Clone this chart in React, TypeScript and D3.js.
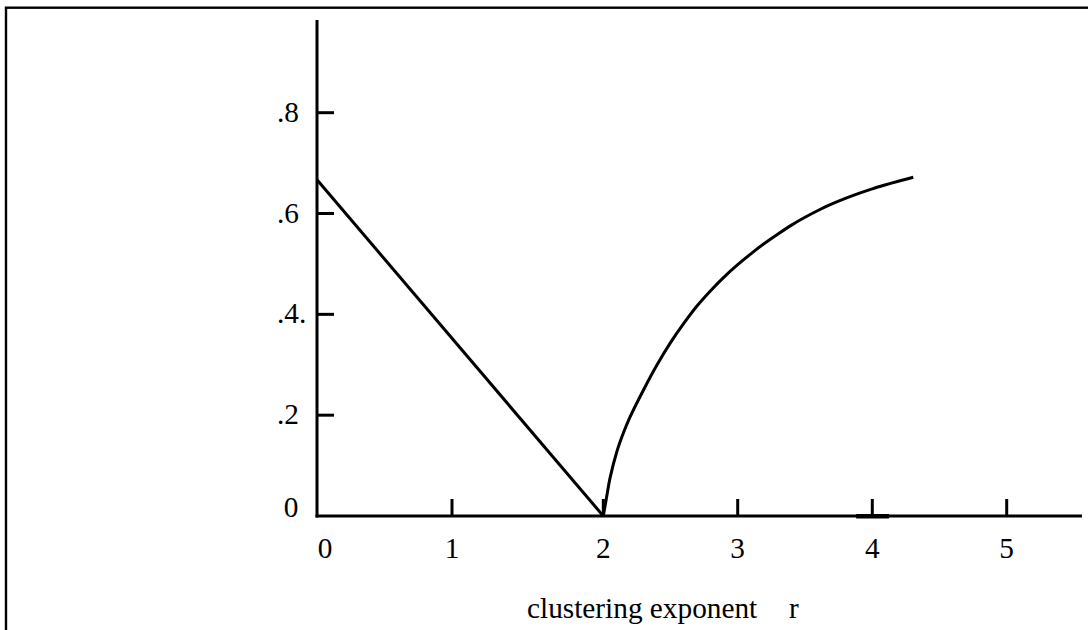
import React from "react";
import * as d3 from "d3";

// x-axis tick positions (the original figure's spacing is slightly uneven)
const xTickValues = [0, 1, 2, 3, 4, 5];
const xTickPixels = [317, 452, 603.3, 737.7, 872.3, 1006.7];
const xTickLabels = ["0", "1", "2", "3", "4", "5"];

const yTickValues = [0, 0.2, 0.4, 0.6, 0.8];
const yTickLabels = ["0", ".2", ".4.", ".6", ".8"];

// left branch: straight line
const lineR = [0, 2];
const lineV = [0.667, 0];

// right branch: rising curve
const curveR = [
  2.0, 2.025, 2.05, 2.1, 2.15, 2.2, 2.3, 2.4, 2.5, 2.6, 2.7, 2.8, 2.9, 3.0, 3.1, 3.2, 3.3,
  3.4, 3.5, 3.6, 3.7, 3.8, 3.9, 4.0, 4.1, 4.2, 4.305,
];
const curveV = [
  0, 0.038, 0.075, 0.127, 0.165, 0.197, 0.2505, 0.3, 0.344, 0.3825, 0.4175, 0.4475, 0.4745,
  0.4985, 0.5205, 0.541, 0.5595, 0.577, 0.5925, 0.6065, 0.619, 0.63, 0.64, 0.649, 0.657,
  0.6645, 0.672,
];

const xTitle = "clustering exponent";
const xSymbol = "r";

export default function App() {
  const W = 1088;
  const H = 630;
  const font = "Liberation Serif, DejaVu Serif, serif";
  const fs = 29.3;

  const x = d3.scaleLinear().domain(xTickValues).range(xTickPixels);
  const y = d3.scaleLinear().domain([0, 0.8]).range([516, 112.7]);

  const x0 = x(0);
  const y0 = y(0);
  const xEnd = x(5.56);
  const yTop = y(0.984);

  const line = d3
    .line<[number, number]>()
    .x((d) => x(d[0]))
    .y((d) => y(d[1]));

  const curve = d3
    .line<[number, number]>()
    .x((d) => x(d[0]))
    .y((d) => y(d[1]))
    .curve(d3.curveCatmullRom.alpha(0.5));

  const lineData: [number, number][] = lineR.map((r, i) => [r, lineV[i]]);
  const curveData: [number, number][] = curveR.map((r, i) => [r, curveV[i]]);

  const textStyle = { fontFamily: font, fontSize: fs } as React.CSSProperties;

  return (
    <svg
      width={W}
      height={H}
      viewBox={`0 0 ${W} ${H}`}
      style={{ position: "absolute", left: 0, top: 0, display: "block", background: "#fff" }}
    >
      {/* frame */}
      <rect x={6} y={7.7} width={1300} height={900} fill="none" stroke="#000" strokeWidth={2.4} />

      {/* axes */}
      <line x1={x0} y1={yTop} x2={x0} y2={y0 + 1.5} stroke="#000" strokeWidth={3} />
      <line x1={x0 - 1.5} y1={y0} x2={xEnd} y2={y0} stroke="#000" strokeWidth={3} />
      {/* small thicker stroke near r=4 on the axis */}
      <line x1={x(3.88)} y1={y0 + 0.3} x2={x(4.125)} y2={y0 + 0.3} stroke="#000" strokeWidth={4.5} />

      {/* y ticks */}
      {yTickValues.map((v, i) =>
        v === 0 ? null : (
          <line key={"yt" + i} x1={x0} y1={y(v)} x2={x0 + 17} y2={y(v)} stroke="#000" strokeWidth={3} />
        )
      )}
      {yTickValues.map((v, i) => {
        const lab = yTickLabels[i];
        const startsDot = lab.startsWith(".");
        return (
          <text
            key={"yl" + i}
            x={startsDot ? x0 - 40 : x0 - 18.5}
            y={v === 0 ? y(v) + 1 : y(v) + 9}
            textAnchor={startsDot ? "start" : "end"}
            style={textStyle}
            fill="#000"
          >
            {lab}
          </text>
        );
      })}

      {/* x ticks */}
      {xTickValues.map((v, i) =>
        v === 0 ? null : (
          <line key={"xt" + i} x1={x(v)} y1={y0} x2={x(v)} y2={y0 - 17} stroke="#000" strokeWidth={3} />
        )
      )}
      {xTickValues.map((v, i) => (
        <text
          key={"xl" + i}
          x={x(v) + (v === 0 ? 8 : 0)}
          y={558}
          textAnchor="middle"
          style={textStyle}
          fill="#000"
        >
          {xTickLabels[i]}
        </text>
      ))}

      {/* axis title */}
      <text x={527} y={618} style={textStyle} fill="#000">
        {xTitle}
      </text>
      <text x={789} y={618} style={textStyle} fill="#000">
        {xSymbol}
      </text>

      {/* data */}
      <path d={line(lineData) || ""} fill="none" stroke="#000" strokeWidth={3} strokeLinejoin="round" />
      <path d={curve(curveData) || ""} fill="none" stroke="#000" strokeWidth={3} strokeLinejoin="round" />
    </svg>
  );
}
